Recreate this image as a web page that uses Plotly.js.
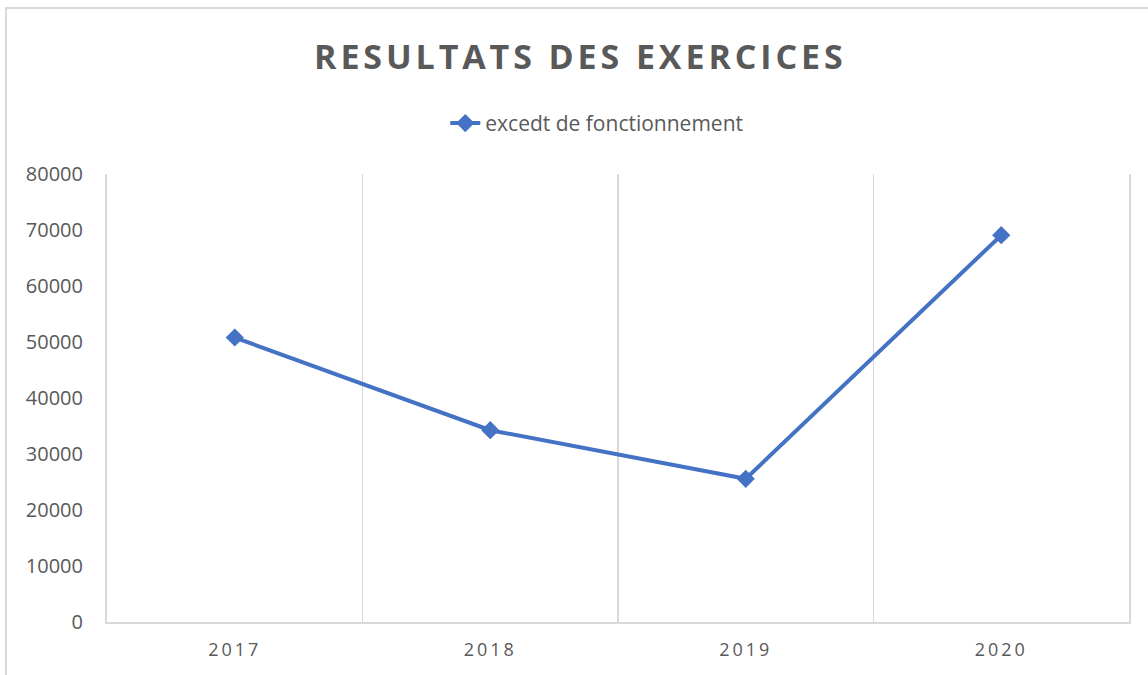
<!DOCTYPE html>
<html>
<head>
<meta charset="utf-8">
<script src="https://cdn.plot.ly/plotly-3.0.1.min.js"></script>
<style>
  html, body { margin: 0; padding: 0; background: #fff; }
  #wrap { position: relative; width: 1148px; height: 675px; overflow: hidden; }
  #chart { width: 1148px; height: 675px; }
  #frame { position: absolute; left: 5px; top: 7px; width: 1160px; height: 700px;
           border: 2px solid #d9d9d9; box-sizing: border-box; pointer-events: none; }
  .gtitle { letter-spacing: 3.9px; }
  .xtick text { letter-spacing: 3px; }
</style>
</head>
<body>
<div id="wrap">
  <div id="chart"></div>
  <div id="frame"></div>
</div>
<script>
const years = ['2017', '2018', '2019', '2020'];
const excedent = [50800, 34250, 25570, 69070];
const yTicks = [0, 10000, 20000, 30000, 40000, 50000, 60000, 70000, 80000];

const trace = {
  type: 'scatter',
  mode: 'lines+markers',
  name: 'excedt de fonctionnement',
  x: years,
  y: excedent,
  line: { color: '#4472C4', width: 4 },
  marker: { symbol: 'diamond', size: 14, color: '#4472C4' }
};

const layout = {
  width: 1148,
  height: 675,
  margin: { l: 107, r: 19, t: 174, b: 53 },
  paper_bgcolor: '#ffffff',
  plot_bgcolor: '#ffffff',
  font: { family: 'Open Sans, sans-serif', color: '#595959' },
  title: {
    text: '<b>RESULTATS DES EXERCICES</b>',
    font: { family: 'Open Sans, sans-serif', size: 34, color: '#595959' },
    x: 0.5055, xanchor: 'center',
    y: 0.916, yanchor: 'middle'
  },
  showlegend: true,
  legend: {
    orientation: 'h',
    x: 0.331, xanchor: 'left',
    y: 1.113, yanchor: 'middle',
    font: { family: 'Open Sans, sans-serif', size: 21, color: '#595959' },
    bgcolor: 'rgba(0,0,0,0)'
  },
  xaxis: {
    type: 'category',
    range: [-0.5, 3.5],
    tickson: 'boundaries',
    showgrid: true,
    gridcolor: '#d9d9d9',
    gridwidth: 1.5,
    showline: true,
    linecolor: '#d9d9d9',
    linewidth: 2,
    ticks: '',
    ticklabelstandoff: 10,
    tickfont: { family: 'Open Sans, sans-serif', size: 18, color: '#595959' },
    fixedrange: true
  },
  yaxis: {
    range: [0, 80000],
    tickvals: yTicks,
    ticktext: yTicks.map(String),
    showgrid: false,
    zeroline: false,
    showline: true,
    mirror: true,
    linecolor: '#d9d9d9',
    linewidth: 2,
    ticks: '',
    ticklabelstandoff: 18,
    tickfont: { family: 'Open Sans, sans-serif', size: 20, color: '#595959' },
    fixedrange: true
  }
};

Plotly.newPlot('chart', [trace], layout, { displayModeBar: false, staticPlot: true });
</script>
</body>
</html>
